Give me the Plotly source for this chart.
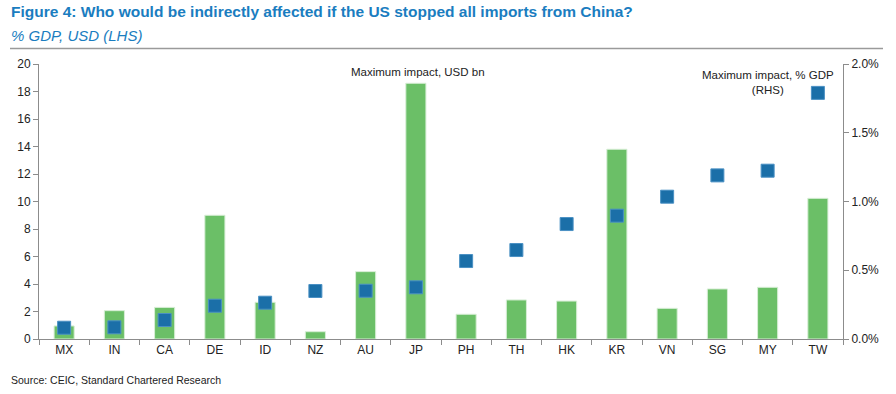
import plotly.graph_objects as go

countries = ["MX", "IN", "CA", "DE", "ID", "NZ", "AU", "JP", "PH", "TH", "HK", "KR", "VN", "SG", "MY", "TW"]
usd_bn = [0.95, 2.06, 2.3, 9.0, 2.67, 0.53, 4.9, 18.6, 1.8, 2.84, 2.76, 13.8, 2.23, 3.64, 3.76, 10.23]
pct_gdp = [0.082, 0.085, 0.138, 0.242, 0.264, 0.349, 0.351, 0.376, 0.567, 0.647, 0.836, 0.897, 1.035, 1.19, 1.224, 1.79]

left_ticks = list(range(0, 21, 2))
right_ticks = [0, 0.5, 1.0, 1.5, 2.0]
right_labels = ["0.0%", "0.5%", "1.0%", "1.5%", "2.0%"]

FONT = "Liberation Sans, Arial"
AX = "#8c8c8c"
TXT = "#222222"

W, H = 896, 394
L, R, T, B = 39, 53, 64, 55
PW, PH = W - L - R, H - T - B


def px_x(px):
    return (px - L) / PW


def px_y(py):
    return (H - B - py) / PH


fig = go.Figure()
fig.add_trace(go.Bar(
    x=countries, y=usd_bn, width=0.4,
    marker=dict(color="#6BBF67", line=dict(color="#d8eed6", width=1)),
    name="Maximum impact, USD bn", yaxis="y",
))
fig.add_trace(go.Scatter(
    x=countries, y=pct_gdp, mode="markers",
    marker=dict(symbol="square", size=13, color="#1B6FA8", line=dict(color="#4a90c4", width=1)),
    name="Maximum impact, % GDP (RHS)", yaxis="y2",
))

fig.update_layout(
    width=W, height=H,
    margin=dict(l=L, r=R, t=T, b=B, autoexpand=False),
    paper_bgcolor="white", plot_bgcolor="white",
    showlegend=False,
    font=dict(family=FONT, size=12, color=TXT),
    xaxis=dict(
        type="category", range=[-0.5, 15.5],
        showline=True, linecolor=AX, linewidth=1,
        ticks="outside", tickson="boundaries", ticklen=5, tickcolor=AX,
        showgrid=False, tickfont=dict(family=FONT, size=12, color=TXT),
    ),
    yaxis=dict(
        range=[0, 20], tickvals=left_ticks, showgrid=False, zeroline=False,
        showline=True, linecolor=AX, linewidth=1,
        ticks="outside", ticklen=5, tickcolor=AX,
        tickfont=dict(family=FONT, size=12, color=TXT),
    ),
    yaxis2=dict(
        overlaying="y", side="right", range=[0, 2.0],
        tickvals=right_ticks, ticktext=right_labels, showgrid=False, zeroline=False,
        showline=True, linecolor=AX, linewidth=1,
        ticks="outside", ticklen=5, tickcolor=AX,
        tickfont=dict(family=FONT, size=12, color=TXT),
    ),
)

fig.add_annotation(xref="paper", yref="paper", x=px_x(9), y=px_y(12),
                   xanchor="left", yanchor="middle", showarrow=False,
                   text="<b>Figure 4: Who would be indirectly affected if the US stopped all imports from China?</b>",
                   font=dict(family=FONT, size=15.5, color="#1A7DC0"))
fig.add_annotation(xref="paper", yref="paper", x=px_x(9), y=px_y(35),
                   xanchor="left", yanchor="middle", showarrow=False,
                   text="<i>% GDP, USD (LHS)</i>",
                   font=dict(family=FONT, size=15, color="#1A7DC0"))
fig.add_shape(type="line", xref="paper", yref="paper",
              x0=px_x(10), x1=px_x(883), y0=px_y(48.5), y1=px_y(48.5),
              line=dict(color="#9a9a9a", width=1.5))
fig.add_annotation(xref="x", yref="y", x=7.04, y=19.4, xanchor="center", yanchor="middle",
                   showarrow=False, text="Maximum impact, USD bn",
                   font=dict(family=FONT, size=11.5, color=TXT))
fig.add_annotation(xref="x", yref="y", x=14.0, y=19.75, xanchor="center", yanchor="top",
                   showarrow=False, text="Maximum impact, % GDP<br>(RHS)",
                   font=dict(family=FONT, size=11.5, color=TXT))
fig.add_annotation(xref="paper", yref="paper", x=px_x(9), y=px_y(380),
                   xanchor="left", yanchor="middle", showarrow=False,
                   text="Source: CEIC, Standard Chartered Research",
                   font=dict(family=FONT, size=10.5, color=TXT))

fig.write_html("out.html", config={"displayModeBar": False},
               post_script="document.body.style.margin='0';document.body.style.padding='0';")
